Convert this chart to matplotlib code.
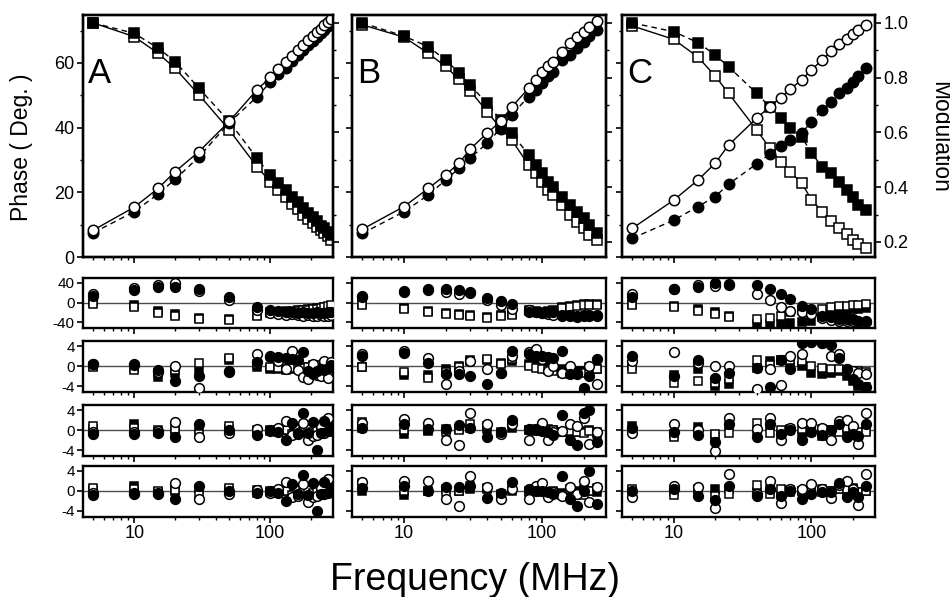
import matplotlib
matplotlib.use("Agg")
import matplotlib.pyplot as plt
from matplotlib.ticker import FixedLocator, LogLocator, NullFormatter

plt.rcParams["font.family"] = ["Liberation Sans", "DejaVu Sans"]
plt.rcParams["axes.unicode_minus"] = False

# frequencies (MHz) of the three data sets
freq_a = [5, 10, 15, 20, 30, 50, 80, 100, 115, 130, 145, 160, 175, 190, 205, 220, 235, 250, 265, 280]
freq_b = [5, 10, 15, 20, 25, 30, 40, 50, 60, 80, 90, 100, 110, 120, 140, 160, 180, 200, 220, 250]
freq_c = [5, 10, 15, 20, 25, 40, 50, 60, 70, 85, 100, 120, 140, 160, 180, 200, 220, 250]

# phase (deg) and modulation, open / filled symbols
phase_a_open = [8.3, 15.4, 21.2, 26.4, 32.6, 41.9, 51.7, 55.5, 58.0, 60.2, 62.2, 64.0, 65.6, 67.0, 68.3, 69.5, 70.6, 71.6, 72.6, 73.5]
phase_a_filled = [7.5, 14.0, 19.5, 24.0, 31.0, 41.5, 49.5, 54.0, 56.5, 58.5, 60.5, 62.5, 64.0, 65.5, 66.8, 68.0, 69.2, 70.3, 71.3, 72.3]
mod_a_open = [1.0, 0.950, 0.889, 0.834, 0.737, 0.609, 0.475, 0.420, 0.390, 0.365, 0.340, 0.320, 0.300, 0.285, 0.270, 0.255, 0.243, 0.232, 0.220, 0.207]
mod_a_filled = [1.0, 0.962, 0.908, 0.859, 0.761, 0.640, 0.506, 0.445, 0.415, 0.390, 0.365, 0.345, 0.325, 0.305, 0.290, 0.275, 0.260, 0.250, 0.238, 0.226]

phase_b_open = [8.6, 15.6, 21.2, 25.4, 29.0, 33.3, 38.3, 41.9, 46.3, 52.2, 54.8, 57.3, 58.9, 60.4, 63.5, 66.1, 68.1, 69.7, 71.2, 73.1]
phase_b_filled = [7.3, 14.0, 19.2, 23.8, 27.4, 30.5, 35.2, 39.7, 43.9, 49.6, 51.6, 53.7, 55.8, 57.3, 61.0, 62.5, 64.5, 66.6, 68.3, 70.2]
mod_b_open = [0.993, 0.948, 0.889, 0.841, 0.794, 0.753, 0.676, 0.615, 0.573, 0.481, 0.451, 0.420, 0.390, 0.370, 0.335, 0.299, 0.274, 0.250, 0.226, 0.207]
mod_b_filled = [1.0, 0.952, 0.913, 0.865, 0.818, 0.773, 0.706, 0.646, 0.597, 0.518, 0.481, 0.451, 0.420, 0.400, 0.366, 0.335, 0.311, 0.287, 0.262, 0.232]

phase_c_open = [8.9, 17.6, 23.8, 29.0, 34.6, 42.9, 46.5, 49.3, 51.8, 54.8, 57.8, 61.0, 63.6, 65.8, 67.5, 69.0, 70.2, 71.6]
phase_c_filled = [5.8, 11.4, 15.6, 18.7, 22.5, 28.8, 31.9, 34.3, 36.2, 38.3, 41.8, 45.5, 48.0, 50.6, 52.2, 54.2, 55.8, 58.3]
mod_c_open = [0.989, 0.940, 0.875, 0.806, 0.743, 0.609, 0.542, 0.493, 0.457, 0.415, 0.355, 0.310, 0.278, 0.250, 0.229, 0.208, 0.193, 0.177]
mod_c_filled = [1.0, 0.968, 0.928, 0.883, 0.840, 0.743, 0.692, 0.652, 0.615, 0.585, 0.524, 0.475, 0.451, 0.420, 0.390, 0.365, 0.335, 0.317]

# residuals: fc/oc = filled/open circles, fs/os = filled/open squares
a1_fc = [14, 25, 32, 32, 27, 11, -9, -16, -18, -20, -19, -21, -20, -22, -21, -20, -22, -21, -19, -20]
a1_oc = [17, 29, 36, 39, 24, 5, -15, -22, -24, -25, -23, -26, -27, -25, -28, -27, -26, -28, -27, -25]
a1_fs = [1, -6, -17, -24, -31, -33, -26, -20, -19, -18, -17, -16, -15, -14, -13, -12, -11, -10, -9, -8]
a1_os = [-4, -9, -21, -27, -33, -35, -28, -22, -21, -20, -19, -18, -16, -15, -14, -13, -12, -10, -8, -5]
a2_fc = [0.4, 0.5, -0.7, -2.9, -2.0, -1.1, 0.85, 1.8, 1.8, 1.6, 1.5, 1.2, 2.8, -1.0, -1.5, -1.0, -0.5, -0.8, -0.3, 0.3]
a2_oc = [0.5, 0.2, -1.2, 0.0, -4.4, -0.9, 2.5, 2.0, 1.0, -0.5, 3.1, -0.8, -2.2, -2.5, 0.5, -1.8, -2.0, 1.0, -2.3, 0.8]
a2_fs = [0.0, -0.3, -2.1, -1.4, -1.1, 1.2, -0.1, -0.5, -0.6, -0.7, -0.5, -0.4, -0.8, -0.2, -0.5, -0.3, 0.0, -0.2, 0.3, 0.4]
a2_os = [-0.1, -0.7, -1.4, -0.8, 0.65, 1.7, 0.5, -0.2, -0.4, -0.5, -0.3, -0.6, -0.4, -0.1, 0.3, 0.2, -0.4, 0.5, 0.1, 0.6]
a3_fc = [-0.8, -0.8, -0.6, -1.4, 1.2, 0.0, -1.0, 0.0, -0.3, -2.0, 1.4, -0.5, 3.4, -0.5, 1.6, -4.0, -0.5, 1.8, -0.2, 0.5]
a3_oc = [-0.45, -0.3, -0.2, 1.6, -1.4, -0.6, 0.3, -0.2, 0.5, 1.8, -1.0, -0.8, 1.5, -2.0, -1.1, -1.0, 0.8, -0.5, 2.5, 0.3]
a3_fs = [0.3, 1.2, -0.3, -0.1, 0.2, 0.2, -0.45, -0.2, -0.3, 0.1, -0.4, -0.2, 0.2, -0.5, 0.0, -0.2, 0.4, 0.1, -0.3, 0.6]
a3_os = [0.8, 0.5, 0.1, 0.3, -0.8, 0.8, 0.0, 0.1, -0.2, 0.0, -0.8, 0.3, -0.1, 0.2, -0.4, 0.5, 0.0, -0.3, 0.6, 0.4]
a4_fc = [-0.7, -0.6, -0.6, -1.5, 1.0, 0.0, -0.3, 0.0, -0.4, -2.0, 1.4, -0.6, 3.3, -0.8, 1.7, -4.0, -0.5, 1.9, -0.3, 0.6]
a4_oc = [-0.4, -0.3, -0.3, 1.6, -1.5, -0.6, 0.2, -0.3, 0.5, 1.8, -1.2, -0.9, 1.4, -2.1, -1.2, -1.0, 0.7, -0.6, 2.4, 0.3]
a4_fs = [0.3, 1.0, -0.2, 0.0, 0.4, 0.3, -0.3, -0.2, -0.3, 0.1, -0.3, -0.2, 0.2, -0.5, 0.0, -0.1, 0.4, 0.1, -0.3, 0.6]
a4_os = [0.7, 0.4, 0.1, 0.3, -0.7, 0.6, 0.2, 0.1, -0.2, 0.0, -0.7, 0.3, -0.1, 0.2, -0.3, 0.5, 0.0, -0.3, 0.6, 0.5]

b1_fc = [14, 23, 27, 27, 25, 21, 9, 3, -3, -19, -19, -21, -19, -19, -26, -26, -28, -26, -26, -26]
b1_oc = [12, 21, 25, 21, 17, 19, 5, -6, -13, -16, -20, -22, -24, -25, -27, -28, -29, -28, -27, -28]
b1_fs = [-3, -11, -17, -21, -24, -26, -29, -26, -23, -16, -17, -19, -17, -16, -9, -8, -6, -4, -3, -3]
b1_os = [-5, -13, -19, -23, -26, -28, -31, -28, -25, -18, -19, -21, -19, -18, -11, -10, -8, -6, -5, -5]
b2_fc = [2.0, 2.6, 0.65, -1.6, -1.6, -2.0, -3.6, -1.3, 3.1, 2.5, 2.0, 2.0, 1.8, 1.6, 3.1, -1.6, -1.3, -4.4, -2.0, 1.4]
b2_oc = [2.5, 3.1, 1.6, -3.5, -1.0, 1.0, -0.65, -1.3, 2.0, 2.9, 3.4, 1.4, -1.0, 0.0, -1.3, 0.1, -1.6, -4.9, 0.1, -3.6]
b2_fs = [-0.1, -1.8, -1.8, -0.65, 0.1, 1.3, 1.2, 0.65, 1.0, 0.5, 0.1, -0.1, 0.0, -0.3, -0.5, -0.65, -1.0, -1.0, -0.1, -0.65]
b2_os = [-0.1, -1.2, -2.3, -1.2, -0.1, 1.0, 1.4, 0.5, 1.4, 0.0, -0.3, -0.65, -0.8, -1.0, -1.3, -1.6, -1.4, -1.3, -1.6, -0.65]
b3_fc = [0.5, 1.2, 0.2, 0.3, 1.0, 0.5, -1.4, -0.45, 2.1, 0.2, 0.2, -0.1, -0.45, -1.0, 3.1, -2.0, -2.9, 3.4, 4.0, -2.4]
b3_oc = [1.5, 2.3, 1.5, -2.0, -2.9, 3.5, 1.2, -0.8, 1.2, -2.0, 0.1, 1.5, -2.0, -0.45, -0.1, 1.2, 0.8, 2.5, -2.7, -0.45]
b3_fs = [0.5, -0.8, -0.1, 0.2, 0.2, 0.5, 0.2, -0.3, 0.5, 0.1, -0.1, 0.1, 0.2, 0.1, -0.45, -0.3, -0.45, -0.1, 0.1, -0.8]
b3_os = [1.6, 0.1, 0.1, -0.3, 0.1, 1.2, 0.8, -0.6, 1.2, 0.1, 0.2, 0.1, 0.1, 0.1, -0.3, -0.1, -0.45, -0.6, -0.1, -0.45]
b4_fc = [0.6, 1.1, 0.1, 0.8, 0.8, 1.0, -1.4, -0.3, 1.9, 0.45, 0.1, 0.1, -0.1, -0.5, 3.0, -1.5, -2.9, 0.1, 4.0, -2.5]
b4_oc = [1.9, 2.0, 2.0, -1.5, -2.9, 3.0, 0.8, -1.5, 0.45, -1.5, 1.1, 1.6, -1.2, -0.2, -1.0, 0.8, -0.5, 2.0, -2.1, 0.8]
b4_fs = [0.1, -0.7, 0.1, 0.45, 0.1, 0.45, 0.45, -0.5, 0.1, -0.1, 0.1, -0.1, -0.2, -0.2, -0.3, -0.5, 0.1, 0.45, 0.1, -0.2]
b4_os = [1.7, 0.1, 0.1, -0.2, 0.1, 1.1, 0.6, -1.0, 0.45, 0.1, 0.45, 0.1, -0.1, 0.1, -0.7, 0.45, -0.5, -0.7, 0.1, 0.6]

c1_fc = [12, 27, 32, 40, 36, 35, 27, 17, 7, -7, -13, -27, -30, -33, -33, -34, -37, -37]
c1_oc = [17, 28, 35, 33, 37, 17, 5, -10, -17, -20, -23, -32, -35, -37, -37, -37, -39, -40]
c1_fs = [-3, -7, -13, -20, -27, -43, -43, -43, -41, -40, -37, -30, -23, -20, -17, -13, -13, -12]
c1_os = [-5, -10, -17, -23, -30, -33, -32, -28, -20, -15, -17, -13, -10, -8, -7, -5, -5, -3]
c2_fc = [2.0, -2.0, 1.3, -2.3, -1.3, -0.3, -4.2, 1.3, -0.5, 4.6, 4.9, 4.6, 4.2, 1.6, -0.65, -2.6, -3.6, -4.2]
c2_oc = [1.0, 2.9, 0.65, 0.0, 0.0, -4.6, -0.65, -3.8, 2.0, 2.5, 4.9, 4.6, 2.0, 2.5, -0.65, -1.0, -1.3, -1.6]
c2_fs = [0.1, -1.8, -0.65, -4.0, -3.6, -0.3, 1.0, 1.3, 0.65, 0.1, -1.3, -1.6, -1.3, -1.0, -2.0, -2.9, -3.9, -4.2]
c2_os = [-0.65, -3.4, -2.9, -3.3, -2.6, 1.3, 0.3, 1.2, 1.3, 1.0, 0.0, -0.3, -0.65, -0.65, -1.0, -1.2, -1.0, -1.2]
c3_fc = [0.5, -0.45, -1.0, -2.4, 1.2, -1.4, 1.2, -0.8, 0.1, -2.0, -0.45, -1.0, 0.1, 1.2, -1.4, -0.8, -1.1, 1.2]
c3_oc = [-0.6, 1.2, 0.1, -4.2, 2.5, 0.2, 2.5, -1.9, 0.5, 1.4, 1.5, 0.5, -2.0, 1.8, 2.1, 0.9, -2.7, 3.4]
c3_fs = [0.8, -0.8, 0.7, -1.4, 0.8, -0.45, 0.8, -0.8, 0.1, -1.1, -0.45, -1.2, 0.1, 0.5, -0.45, 0.1, -1.1, 0.1]
c3_os = [0.1, -1.4, -0.1, -0.8, -0.6, 1.4, -0.6, 0.1, 0.3, 0.2, -0.1, 0.2, 0.1, -0.3, 0.5, 0.2, -0.3, -0.45]
c4_fc = [0.1, 0.45, -1.0, -1.8, 1.0, -1.0, 0.45, -1.0, 0.1, -1.5, -0.5, -0.2, -0.1, 1.6, -1.2, -0.2, -1.2, 1.1]
c4_oc = [-1.2, 1.1, 0.8, -3.3, 3.5, -0.5, 2.0, -2.3, 0.45, 0.45, 1.4, 0.45, -1.4, 1.2, 2.0, 0.45, -2.8, 3.4]
c4_fs = [0.1, 0.1, -0.1, 0.45, 0.45, -0.2, 0.45, -0.8, -0.1, 0.1, -0.2, -0.1, 0.1, 0.45, -0.2, 0.45, -0.2, 0.1]
c4_os = [0.45, -0.8, 0.45, -1.0, -0.5, 1.2, -0.5, 0.45, 0.3, 0.1, 0.1, 0.45, 0.1, 0.45, 0.45, 0.6, -0.2, 0.1]

panel_letters = ["A", "B", "C"]
columns = [
    (freq_a, phase_a_open, phase_a_filled, mod_a_open, mod_a_filled,
     [(a1_fc, a1_oc, a1_fs, a1_os), (a2_fc, a2_oc, a2_fs, a2_os),
      (a3_fc, a3_oc, a3_fs, a3_os), (a4_fc, a4_oc, a4_fs, a4_os)]),
    (freq_b, phase_b_open, phase_b_filled, mod_b_open, mod_b_filled,
     [(b1_fc, b1_oc, b1_fs, b1_os), (b2_fc, b2_oc, b2_fs, b2_os),
      (b3_fc, b3_oc, b3_fs, b3_os), (b4_fc, b4_oc, b4_fs, b4_os)]),
    (freq_c, phase_c_open, phase_c_filled, mod_c_open, mod_c_filled,
     [(c1_fc, c1_oc, c1_fs, c1_os), (c2_fc, c2_oc, c2_fs, c2_os),
      (c3_fc, c3_oc, c3_fs, c3_os), (c4_fc, c4_oc, c4_fs, c4_os)]),
]

W, H = 950, 597
fig = plt.figure(figsize=(W / 100, H / 100), dpi=100)


def px_axes(x0, y0, x1, y1):
    return fig.add_axes([x0 / W, 1 - y1 / H, (x1 - x0) / W, (y1 - y0) / H])


def style(ax, labelsize=13):
    for s in ax.spines.values():
        s.set_linewidth(1.7)
    ax.tick_params(which="major", direction="out", length=4, width=1.2, labelsize=labelsize, pad=2)
    ax.tick_params(which="minor", direction="out", length=2.5, width=1.0)


def log_x(ax, labels):
    ax.set_xscale("log")
    ax.set_xlim(4.2, 290)
    ax.xaxis.set_major_locator(FixedLocator([10, 100]))
    ax.xaxis.set_minor_locator(LogLocator(base=10, subs=range(2, 10)))
    ax.xaxis.set_minor_formatter(NullFormatter())
    if labels:
        ax.set_xticklabels(["10", "100"])
    else:
        ax.tick_params(axis="x", labelbottom=False)


col_x = [(83, 333), (352, 606), (622, 875)]
row_y = [(278, 328), (341, 392), (405, 456), (466, 517)]

k = dict(color="black", markeredgecolor="black", markeredgewidth=1.1, linestyle="none")

for i, (freq, ph_o, ph_f, md_o, md_f, resid) in enumerate(columns):
    x0, x1 = col_x[i]

    # top panel: phase on the left axis, modulation on the right axis
    ax = px_axes(x0, 15, x1, 257)
    tw = ax.twinx()
    ax.set_ylim(0, 74.8)
    tw.set_ylim(0.145, 1.029)
    log_x(ax, False)
    for a in (ax, tw):
        style(a)
    ax.yaxis.set_major_locator(FixedLocator([0, 20, 40, 60]))
    ax.yaxis.set_minor_locator(FixedLocator([10, 30, 50, 70]))
    tw.yaxis.set_major_locator(FixedLocator([0.2, 0.4, 0.6, 0.8, 1.0]))
    tw.yaxis.set_minor_locator(FixedLocator([0.3, 0.5, 0.7, 0.9]))
    if i != 0:
        ax.tick_params(axis="y", labelleft=False)
    if i != 2:
        tw.tick_params(axis="y", labelright=False)
    else:
        tw.set_yticklabels(["0.2", "0.4", "0.6", "0.8", "1.0"])

    # modulation: squares, solid fit for open, dashed for filled
    tw.plot(freq, md_o, color="black", lw=1.0)
    tw.plot(freq, md_f, color="black", lw=1.0, dashes=(4, 3))
    tw.plot(freq, md_o, marker="s", ms=6.5, markerfacecolor="white", **k)
    tw.plot(freq, md_f, marker="s", ms=6.5, markerfacecolor="black", **k)
    # phase: circles
    ax.plot(freq, ph_o, color="black", lw=1.0)
    ax.plot(freq, ph_f, color="black", lw=1.0, dashes=(4, 3))
    ax.plot(freq, ph_f, marker="o", ms=7.5, markerfacecolor="black", **k)
    ax.plot(freq, ph_o, marker="o", ms=7.5, markerfacecolor="white", **k)
    ax.set_zorder(tw.get_zorder() + 1)
    ax.patch.set_visible(False)
    ax.text(0.02, 0.719, panel_letters[i], transform=ax.transAxes,
            fontsize=25, ha="left", va="baseline")

    # residual panels
    for r, (fc, oc, fs, os_) in enumerate(resid):
        y0, y1 = row_y[r]
        rax = px_axes(x0, y0, x1, y1)
        style(rax, labelsize=11)
        log_x(rax, r == 3)
        if r == 3:
            rax.tick_params(axis="x", labelsize=13)
        rax.axhline(0, color="0.3", lw=1.0, zorder=1)
        if r == 0:
            rax.set_ylim(-52, 50)
            rax.yaxis.set_major_locator(FixedLocator([-40, 0, 40]))
        else:
            rax.set_ylim(-5.2, 5.0)
            rax.yaxis.set_major_locator(FixedLocator([-4, 0, 4]))
        if i != 0:
            rax.tick_params(axis="y", labelleft=False)
        rax.plot(freq, fs, marker="s", ms=6, markerfacecolor="black", zorder=2, **k)
        rax.plot(freq, os_, marker="s", ms=6, markerfacecolor="white", zorder=3, **k)
        rax.plot(freq, oc, marker="o", ms=7, markerfacecolor="white", zorder=4, **k)
        rax.plot(freq, fc, marker="o", ms=7, markerfacecolor="black", zorder=5, **k)

fig.text(22 / W, 1 - 147 / H, "Phase ( Deg. )", rotation=90, ha="center", va="center", fontsize=16.5)
fig.text(940 / W, 1 - 137 / H, "Modulation", rotation=270, ha="center", va="center", fontsize=16.5)
fig.text(475 / W, 1 - 590 / H, "Frequency (MHz)", ha="center", va="baseline", fontsize=27)

fig.savefig("out.png", dpi=100)
